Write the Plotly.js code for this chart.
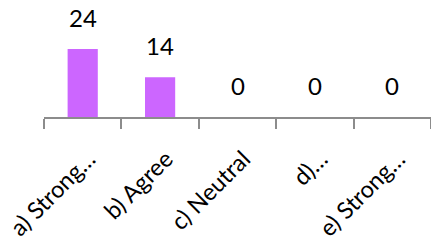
<!DOCTYPE html>
<html>
<head>
<meta charset="utf-8">
<script src="https://cdn.plot.ly/plotly-3.0.1.min.js"></script>
<style>html,body{margin:0;padding:0;background:#fff;}#chart{width:431px;height:243px;}</style>
</head>
<body>
<div id="chart"></div>
<script>
const categories = ["a) Strong…", "b) Agree", "c) Neutral", "d)…", "e) Strong…"];
const values = [24, 14, 0, 0, 0];

const FONT = "Lato, 'Liberation Sans', sans-serif";

const annotations = categories.map((c, i) => ({
  x: c, y: values[i], xref: "x", yref: "y",
  text: String(values[i]), showarrow: false,
  yanchor: "bottom", yshift: 15,
  font: {family: FONT, size: 24, color: "#000"}
}));

const data = [{
  type: "bar",
  x: categories,
  y: values,
  marker: {color: "#CC66FF", line: {width: 0}},
  hoverinfo: "none"
}];

const layout = {
  width: 431, height: 243,
  margin: {l: 44, r: 0, t: 0, b: 126, pad: 0},
  paper_bgcolor: "#fff", plot_bgcolor: "#fff",
  bargap: 0.61,
  showlegend: false,
  xaxis: {
    type: "category",
    range: [-0.5, 4.5],
    tickson: "boundaries",
    ticks: "outside", ticklen: 10, tickwidth: 2, tickcolor: "#8C8C8C",
    showline: true, linecolor: "#8C8C8C", linewidth: 2,
    showgrid: false, zeroline: false,
    tickangle: -45,
    ticklabelstandoff: 17,
    ticklabelshift: 6,
    tickfont: {family: FONT, size: 23.5, color: "#000"},
    fixedrange: true
  },
  yaxis: {
    range: [0, 41.3],
    visible: false, showgrid: false, zeroline: false, fixedrange: true
  },
  annotations: annotations
};

Plotly.newPlot("chart", data, layout, {staticPlot: true, displayModeBar: false});
</script>
</body>
</html>
